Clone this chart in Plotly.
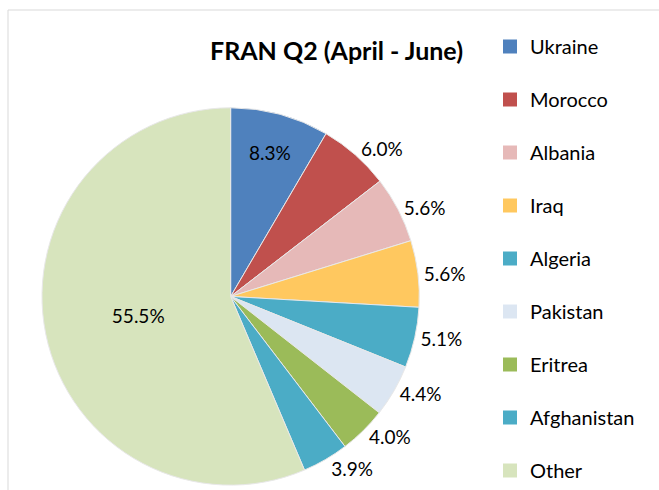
import plotly.graph_objects as go

countries = ["Ukraine", "Morocco", "Albania", "Iraq", "Algeria", "Pakistan", "Eritrea", "Afghanistan", "Other"]
shares = [8.3, 6.0, 5.6, 5.6, 5.1, 4.4, 4.0, 3.9, 55.5]
colors = ["#4F81BD", "#C0504D", "#E6B9B8", "#FFC85F", "#4BACC6", "#DCE6F2", "#9BBB59", "#4BACC6", "#D7E4BD"]
label_pos = ["inside", "outside", "outside", "outside", "outside", "outside", "outside", "outside", "inside"]
title_text = "FRAN Q2 (April - June)"

FONT = "Lato, 'Open Sans', sans-serif"

fig = go.Figure()
fig.add_trace(go.Pie(
    labels=countries,
    values=shares,
    text=[f"{v:.1f}%" for v in shares],
    texttemplate="%{text}",
    textposition=label_pos,
    textfont=dict(family=FONT, size=19, color="#000000"),
    insidetextorientation="horizontal",
    marker=dict(colors=colors, line=dict(color="#E8E8E8", width=1)),
    sort=False,
    direction="clockwise",
    rotation=0,
    showlegend=False,
    hoverinfo="label+text",
    domain=dict(x=[0.0, 0.70], y=[0.01, 0.78]),
))

# legend entries (one per country, spaced like the reference)
for i, (c, col) in enumerate(zip(countries, colors)):
    fig.add_trace(go.Scatter(
        x=[None], y=[None], mode="markers", name=c,
        marker=dict(symbol="square", size=14, color=col),
        legendgroup=f"g{i}", showlegend=True,
    ))

fig.update_layout(
    width=659, height=490,
    margin=dict(l=0, r=0, t=0, b=0, pad=0, autoexpand=False),
    paper_bgcolor="white", plot_bgcolor="white",
    xaxis=dict(visible=False), yaxis=dict(visible=False),
    font=dict(family=FONT, color="#000000"),
    legend=dict(
        x=490 / 659, y=1 - 27 / 490, xanchor="left", yanchor="top",
        font=dict(family=FONT, size=20, color="#000000"),
        tracegroupgap=24, itemsizing="trace", itemwidth=30,
        bgcolor="rgba(0,0,0,0)",
    ),
    annotations=[dict(
        text=f"<b>{title_text}</b>", x=336 / 659, y=1 - 50 / 490,
        xref="paper", yref="paper", xanchor="center", yanchor="middle",
        showarrow=False, font=dict(family=FONT, size=25, color="#000000"),
    )],
    shapes=[
        dict(type="line", xref="paper", yref="paper", x0=8 / 659, x1=8 / 659, y0=0, y1=1 - 10 / 490,
             line=dict(color="#D9D9D9", width=1)),
        dict(type="line", xref="paper", yref="paper", x0=8 / 659, x1=1, y0=1 - 10 / 490, y1=1 - 10 / 490,
             line=dict(color="#D9D9D9", width=1)),
    ],
)

fig.write_html(
    "out.html",
    config={"displayModeBar": False},
    post_script="document.body.style.margin='0';document.body.style.padding='0';",
)
